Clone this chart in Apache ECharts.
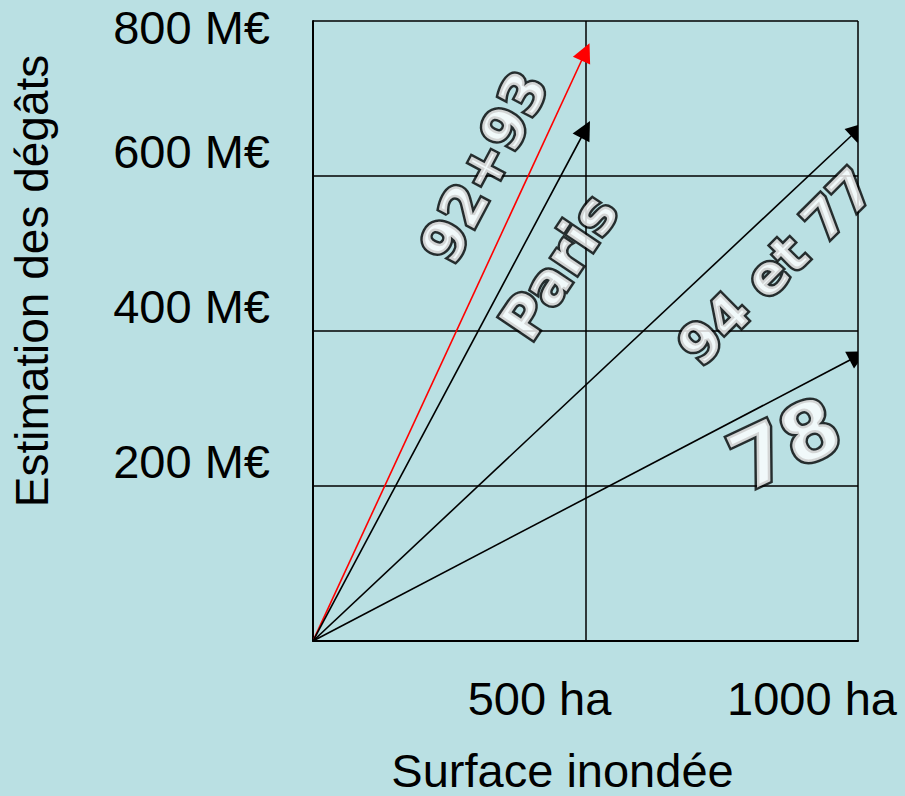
<!DOCTYPE html>
<html><head><meta charset="utf-8">
<script src="https://cdn.jsdelivr.net/npm/echarts@6/dist/echarts.min.js"></script>
<style>html,body{margin:0;padding:0;background:#bae0e3;overflow:hidden;} #c{width:905px;height:796px;}</style>
</head><body><div id="c"></div>
<script>
// Data
const arrowNames = ['92+93', 'Paris', '94 et 77', '78'];
const surfaceHa = [500, 500, 1000, 1000];
const damageMEur = [760, 660, 660, 368];
const xTickLabels = { 500: '500 ha', 1000: '1000 ha' };
const yTickLabels = { 200: '200 M€', 400: '400 M€', 600: '600 M€', 800: '800 M€' };

// Annotation layout (label anchor in data units, rotation, size) and styles
const labelAnchor = [[314, 612], [451, 483], [850, 483], [866, 254]];
const labelRotate = [62, 56, 45, 25];
const labelSize = [57, 57, 54, 80];
const arrowColor = ['#ff0000', '#000000', '#000000', '#000000'];

const chart = echarts.init(document.getElementById('c'), null, { renderer: 'svg' });
const FONT = '"Liberation Sans", Arial, sans-serif';
const tickFont = { fontFamily: FONT, fontSize: 47, color: '#000' };

chart.setOption({
  backgroundColor: '#bae0e3',
  animation: false,
  grid: { left: 313, right: 47, top: 21, bottom: 155, containLabel: false, outerBoundsMode: 'none' },
  xAxis: {
    type: 'value', min: 0, max: 1000, interval: 500,
    name: 'Surface inondée', nameLocation: 'middle', nameGap: 106,
    nameTextStyle: { fontFamily: FONT, fontSize: 47, color: '#000', padding: [0, 46, 0, 0] },
    axisLine: { show: true, onZero: false, lineStyle: { color: '#000', width: 2 } },
    axisTick: { show: false },
    axisLabel: Object.assign({}, tickFont, {
      margin: 34,
      padding: [0, 92, 0, 0],
      formatter: v => xTickLabels[v] || ''
    }),
    splitLine: { show: true, lineStyle: { color: '#000', width: 1.5 } }
  },
  yAxis: {
    type: 'value', min: 0, max: 800, interval: 200,
    name: 'Estimation des dégâts', nameLocation: 'middle', nameGap: 258,
    nameTextStyle: { fontFamily: FONT, fontSize: 46, color: '#000', padding: [0, 0, 0, 100] },
    axisLine: { show: true, onZero: false, lineStyle: { color: '#000', width: 2 } },
    axisTick: { show: false },
    axisLabel: Object.assign({}, tickFont, {
      margin: 43,
      formatter: v => {
        const t = yTickLabels[v];
        if (!t) return '';
        return v === 800 ? '{top|' + t + '}' : '{mid|' + t + '}';
      },
      rich: {
        top: Object.assign({}, tickFont, { padding: [12, 0, 0, 0] }),
        mid: Object.assign({}, tickFont, { padding: [0, 0, 50, 0] })
      }
    }),
    splitLine: { show: true, lineStyle: { color: '#000', width: 1.5 } }
  },
  series: [
    {
      type: 'lines',
      coordinateSystem: 'cartesian2d',
      clip: true,
      symbol: ['none', 'triangle'],
      symbolSize: 19,
      silent: true,
      data: arrowNames.map((n, i) => ({
        name: n,
        coords: [[0, 0], [surfaceHa[i], damageMEur[i]]],
        lineStyle: { color: arrowColor[i], width: 1.6 }
      })),
      lineStyle: { opacity: 1, curveness: 0 },
      z: 3
    },
    {
      type: 'scatter',
      symbolSize: 1,
      itemStyle: { color: 'rgba(0,0,0,0)' },
      silent: true,
      z: 5,
      data: arrowNames.map((n, i) => ({
        name: n,
        value: labelAnchor[i],
        label: { rotate: labelRotate[i], fontSize: labelSize[i] }
      })),
      label: {
        show: true, position: 'inside', formatter: '{b}',
        fontFamily: '"DejaVu Sans", sans-serif', fontWeight: 'bold',
        color: '#ffffff', textBorderColor: '#000000', textBorderWidth: 5,
        align: 'center', verticalAlign: 'middle'
      }
    }
  ]
});
</script>
</body></html>
